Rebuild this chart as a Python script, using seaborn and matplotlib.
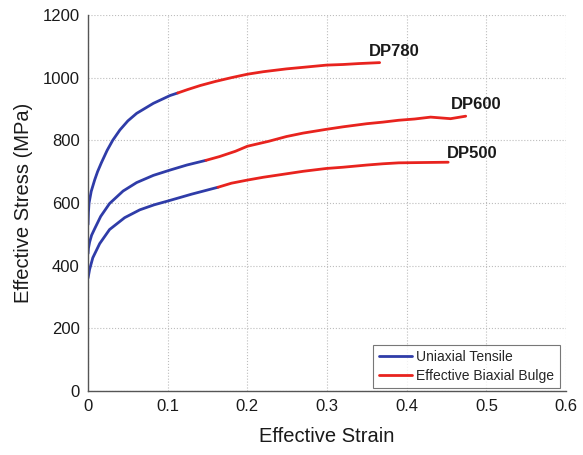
import matplotlib
matplotlib.use("Agg")
import matplotlib.pyplot as plt
import seaborn as sns
import pandas as pd

# ---- data ----
dp780_uni_strain = [0.0, 0.0005, 0.0013, 0.004, 0.0084, 0.012, 0.0167, 0.024, 0.031, 0.04, 0.05, 0.061, 0.082, 0.103, 0.1125]
dp780_uni_stress = [531, 570, 600, 637, 674, 700, 728, 768, 800, 833, 862, 886, 918, 943, 951]
dp780_bx_strain = [0.1125, 0.125, 0.141, 0.16, 0.18, 0.2, 0.22, 0.249, 0.27, 0.299, 0.32, 0.34, 0.366]
dp780_bx_stress = [951, 962, 975, 988, 1000, 1011, 1019, 1028, 1033, 1040, 1042, 1045, 1048]

dp600_uni_strain = [0.0, 0.0005, 0.002, 0.0045, 0.0084, 0.0159, 0.027, 0.044, 0.061, 0.082, 0.103, 0.124, 0.148]
dp600_uni_stress = [438, 455, 475, 497, 518, 557, 598, 638, 665, 688, 705, 721, 736]
dp600_bx_strain = [0.148, 0.165, 0.185, 0.2, 0.227, 0.249, 0.27, 0.299, 0.32, 0.35, 0.37, 0.39, 0.41, 0.43, 0.445, 0.455, 0.474]
dp600_bx_stress = [736, 748, 765, 781, 797, 812, 823, 835, 843, 853, 858, 864, 868, 874, 871, 869, 877]

dp500_uni_strain = [0.0, 0.002, 0.006, 0.0146, 0.027, 0.046, 0.065, 0.083, 0.1, 0.13, 0.163]
dp500_uni_stress = [360, 388, 425, 470, 515, 553, 578, 594, 606, 628, 650]
dp500_bx_strain = [0.163, 0.18, 0.2, 0.22, 0.249, 0.27, 0.299, 0.32, 0.35, 0.37, 0.39, 0.42, 0.452]
dp500_bx_stress = [650, 663, 673, 682, 693, 701, 710, 714, 721, 725, 728, 729, 730]

steel_labels = ["DP780", "DP600", "DP500"]
label_pos_strain = [0.353, 0.455, 0.451]
label_pos_stress = [1085, 913, 757]

tests = ["Uniaxial Tensile", "Effective Biaxial Bulge"]
x_ticks = [0, 0.1, 0.2, 0.3, 0.4, 0.5, 0.6]
x_tick_labels = ["0", "0.1", "0.2", "0.3", "0.4", "0.5", "0.6"]
y_ticks = [0, 200, 400, 600, 800, 1000, 1200]

# ---- build long table ----
rows = []
segs = [
    ("DP780", tests[0], dp780_uni_strain, dp780_uni_stress),
    ("DP780", tests[1], dp780_bx_strain, dp780_bx_stress),
    ("DP600", tests[0], dp600_uni_strain, dp600_uni_stress),
    ("DP600", tests[1], dp600_bx_strain, dp600_bx_stress),
    ("DP500", tests[0], dp500_uni_strain, dp500_uni_stress),
    ("DP500", tests[1], dp500_bx_strain, dp500_bx_stress),
]
for steel, test, xs, ys in segs:
    for x, y in zip(xs, ys):
        rows.append({"strain": x, "stress": y, "test": test, "seg": steel + test})
df = pd.DataFrame(rows)

sns.set_theme(style="white")
plt.rcParams["font.family"] = ["Liberation Sans", "DejaVu Sans"]

fig = plt.figure(figsize=(5.83, 4.55), dpi=100)
ax = fig.add_axes([0.151, 0.141, 0.820, 0.826])

palette = {tests[0]: "#2f3ca8", tests[1]: "#e8231e"}
sns.lineplot(data=df, x="strain", y="stress", hue="test", hue_order=tests,
             units="seg", estimator=None, palette=palette, linewidth=2.0,
             ax=ax, sort=False)

for lab, lx, ly in zip(steel_labels, label_pos_strain, label_pos_stress):
    ax.text(lx, ly, lab, fontsize=12, fontweight="bold", color="#1a1a1a",
            ha="left", va="center")

ax.set_xlim(0, 0.6)
ax.set_ylim(0, 1200)
ax.set_xticks(x_ticks)
ax.set_xticklabels(x_tick_labels)
ax.set_yticks(y_ticks)
ax.tick_params(axis="both", direction="in", length=4, width=0.8, color="#555555",
               labelsize=12, labelcolor="#1a1a1a", pad=6)
ax.grid(True, linestyle=":", color="#bdbdbd", linewidth=0.8)
for s in ["top", "right"]:
    ax.spines[s].set_visible(False)
for s in ["left", "bottom"]:
    ax.spines[s].set_color("#555555")
    ax.spines[s].set_linewidth(1.0)

ax.set_xlabel("Effective Strain", fontsize=14.5, color="#1a1a1a", labelpad=9)
ax.set_ylabel("Effective Stress (MPa)", fontsize=14.5, color="#1a1a1a", labelpad=7)

handles, labels = ax.get_legend_handles_labels()
leg = ax.legend(handles, labels, loc="lower right", bbox_to_anchor=(0.993, 0.0),
                fontsize=10, frameon=True, fancybox=False, edgecolor="#555555",
                handlelength=2.4, handletextpad=0.3, borderpad=0.4,
                labelspacing=0.3, borderaxespad=0.2)
leg.get_frame().set_linewidth(0.8)
for line in leg.get_lines():
    line.set_linewidth(2.0)

fig.savefig("out.png", dpi=100)
